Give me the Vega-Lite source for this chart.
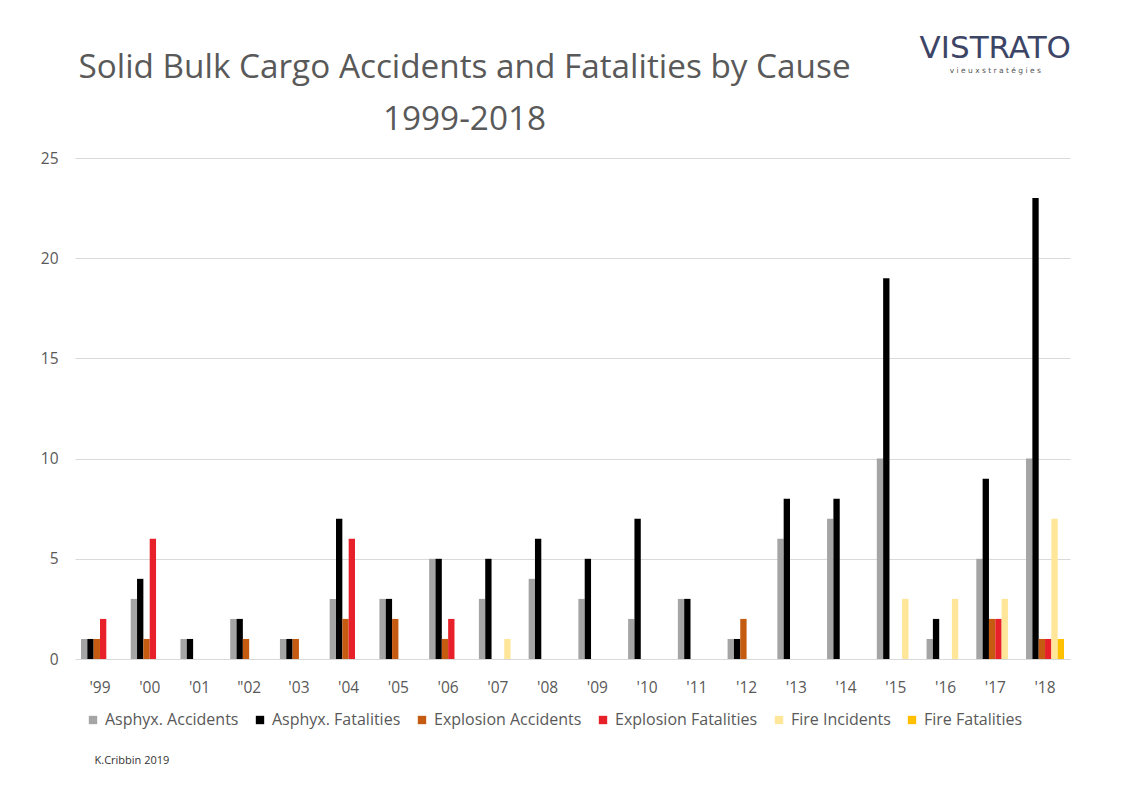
{
  "$schema": "https://vega.github.io/schema/vega-lite/v6.json",
  "width": 995,
  "height": 501,
  "autosize": "none",
  "padding": {"left": 75, "top": 158, "right": 53, "bottom": 131},
  "background": "white",
  "config": {
    "view": {"stroke": null},
    "font": "Open Sans"
  },
  "title": {
    "text": ["Solid Bulk Cargo Accidents and Fatalities by Cause", "1999-2018"],
    "fontSize": 33.3,
    "fontWeight": "normal",
    "color": "#595959",
    "font": "Open Sans",
    "anchor": "middle",
    "frame": "group",
    "dx": -108,
    "offset": -104,
    "lineHeight": 52
  },
  "data": {
    "values": [
      {"year": "'99", "series": "Asphyx. Accidents", "value": 1},
      {"year": "'99", "series": "Asphyx. Fatalities", "value": 1},
      {"year": "'99", "series": "Explosion Accidents", "value": 1},
      {"year": "'99", "series": "Explosion Fatalities", "value": 2},
      {"year": "'00", "series": "Asphyx. Accidents", "value": 3},
      {"year": "'00", "series": "Asphyx. Fatalities", "value": 4},
      {"year": "'00", "series": "Explosion Accidents", "value": 1},
      {"year": "'00", "series": "Explosion Fatalities", "value": 6},
      {"year": "'01", "series": "Asphyx. Accidents", "value": 1},
      {"year": "'01", "series": "Asphyx. Fatalities", "value": 1},
      {"year": "\"02", "series": "Asphyx. Accidents", "value": 2},
      {"year": "\"02", "series": "Asphyx. Fatalities", "value": 2},
      {"year": "\"02", "series": "Explosion Accidents", "value": 1},
      {"year": "'03", "series": "Asphyx. Accidents", "value": 1},
      {"year": "'03", "series": "Asphyx. Fatalities", "value": 1},
      {"year": "'03", "series": "Explosion Accidents", "value": 1},
      {"year": "'04", "series": "Asphyx. Accidents", "value": 3},
      {"year": "'04", "series": "Asphyx. Fatalities", "value": 7},
      {"year": "'04", "series": "Explosion Accidents", "value": 2},
      {"year": "'04", "series": "Explosion Fatalities", "value": 6},
      {"year": "'05", "series": "Asphyx. Accidents", "value": 3},
      {"year": "'05", "series": "Asphyx. Fatalities", "value": 3},
      {"year": "'05", "series": "Explosion Accidents", "value": 2},
      {"year": "'06", "series": "Asphyx. Accidents", "value": 5},
      {"year": "'06", "series": "Asphyx. Fatalities", "value": 5},
      {"year": "'06", "series": "Explosion Accidents", "value": 1},
      {"year": "'06", "series": "Explosion Fatalities", "value": 2},
      {"year": "'07", "series": "Asphyx. Accidents", "value": 3},
      {"year": "'07", "series": "Asphyx. Fatalities", "value": 5},
      {"year": "'07", "series": "Fire Incidents", "value": 1},
      {"year": "'08", "series": "Asphyx. Accidents", "value": 4},
      {"year": "'08", "series": "Asphyx. Fatalities", "value": 6},
      {"year": "'09", "series": "Asphyx. Accidents", "value": 3},
      {"year": "'09", "series": "Asphyx. Fatalities", "value": 5},
      {"year": "'10", "series": "Asphyx. Accidents", "value": 2},
      {"year": "'10", "series": "Asphyx. Fatalities", "value": 7},
      {"year": "'11", "series": "Asphyx. Accidents", "value": 3},
      {"year": "'11", "series": "Asphyx. Fatalities", "value": 3},
      {"year": "'12", "series": "Asphyx. Accidents", "value": 1},
      {"year": "'12", "series": "Asphyx. Fatalities", "value": 1},
      {"year": "'12", "series": "Explosion Accidents", "value": 2},
      {"year": "'13", "series": "Asphyx. Accidents", "value": 6},
      {"year": "'13", "series": "Asphyx. Fatalities", "value": 8},
      {"year": "'14", "series": "Asphyx. Accidents", "value": 7},
      {"year": "'14", "series": "Asphyx. Fatalities", "value": 8},
      {"year": "'15", "series": "Asphyx. Accidents", "value": 10},
      {"year": "'15", "series": "Asphyx. Fatalities", "value": 19},
      {"year": "'15", "series": "Fire Incidents", "value": 3},
      {"year": "'16", "series": "Asphyx. Accidents", "value": 1},
      {"year": "'16", "series": "Asphyx. Fatalities", "value": 2},
      {"year": "'16", "series": "Fire Incidents", "value": 3},
      {"year": "'17", "series": "Asphyx. Accidents", "value": 5},
      {"year": "'17", "series": "Asphyx. Fatalities", "value": 9},
      {"year": "'17", "series": "Explosion Accidents", "value": 2},
      {"year": "'17", "series": "Explosion Fatalities", "value": 2},
      {"year": "'17", "series": "Fire Incidents", "value": 3},
      {"year": "'18", "series": "Asphyx. Accidents", "value": 10},
      {"year": "'18", "series": "Asphyx. Fatalities", "value": 23},
      {"year": "'18", "series": "Explosion Accidents", "value": 1},
      {"year": "'18", "series": "Explosion Fatalities", "value": 1},
      {"year": "'18", "series": "Fire Incidents", "value": 7},
      {"year": "'18", "series": "Fire Fatalities", "value": 1}
    ]
  },
  "layer": [
    {
      "mark": {"type": "bar"},
      "encoding": {
        "x": {
          "field": "year",
          "type": "nominal",
          "sort": null,
          "scale": {
            "domain": ["'99", "'00", "'01", "\"02", "'03", "'04", "'05", "'06", "'07", "'08", "'09", "'10", "'11", "'12", "'13", "'14", "'15", "'16", "'17", "'18"],
            "paddingInner": 0.236,
            "paddingOuter": 0.12
          },
          "axis": {
            "title": "K.Cribbin 2019",
            "titleFontSize": 11,
            "titleFontWeight": "normal",
            "titleColor": "#333333",
            "titleAnchor": "start",
            "titleAlign": "left",
            "titleX": 19,
            "titleY": 101,
            "titleBaseline": "middle",
            "labelAngle": 0,
            "labelFontSize": 15.5,
            "labelColor": "#595959",
            "labelPadding": 21,
            "ticks": false,
            "domain": false,
            "grid": false
          }
        },
        "xOffset": {
          "field": "series",
          "type": "nominal",
          "scale": {
            "domain": ["Asphyx. Accidents", "Asphyx. Fatalities", "Explosion Accidents", "Explosion Fatalities", "Fire Incidents", "Fire Fatalities"],
            "paddingInner": 0,
            "paddingOuter": 0
          }
        },
        "y": {
          "field": "value",
          "type": "quantitative",
          "scale": {"domain": [0, 25]},
          "axis": {
            "title": null,
            "values": [0, 5, 10, 15, 20, 25],
            "labelFontSize": 15.5,
            "labelColor": "#595959",
            "labelPadding": 17,
            "ticks": false,
            "domain": false,
            "gridColor": "#D9D9D9",
            "gridWidth": 1
          }
        },
        "color": {
          "field": "series",
          "type": "nominal",
          "scale": {
            "domain": ["Asphyx. Accidents", "Asphyx. Fatalities", "Explosion Accidents", "Explosion Fatalities", "Fire Incidents", "Fire Fatalities"],
            "range": ["#A5A5A5", "#000000", "#C55A11", "#E8202A", "#FFE699", "#FFC000"]
          },
          "legend": {
            "title": null,
            "orient": "none",
            "direction": "horizontal",
            "columns": 6,
            "legendX": 10,
            "legendY": 554,
            "symbolType": "square",
            "symbolSize": 70,
            "symbolStrokeWidth": 0,
            "labelFontSize": 16,
            "labelColor": "#595959",
            "labelLimit": 300,
            "columnPadding": 13,
            "labelOffset": 4
          }
        }
      }
    },
    {
      "data": {"values": [{"label": "VISTRATO"}]},
      "mark": {"type": "text", "font": "DejaVu Sans", "fontSize": 31, "fontWeight": "normal", "color": "#3D4566", "align": "center", "baseline": "middle"},
      "encoding": {
        "x": {"datum": "'17"},
        "y": {"datum": 30.44, "scale": {"domain": [0, 25]}},
        "text": {"field": "label"}
      }
    },
    {
      "data": {"values": [{"label": "v i e u x   s t r a t é g i e s"}]},
      "mark": {"type": "text", "font": "DejaVu Sans", "fontSize": 7.5, "color": "#555555", "align": "center", "baseline": "middle"},
      "encoding": {
        "x": {"datum": "'17"},
        "y": {"datum": 29.36, "scale": {"domain": [0, 25]}},
        "text": {"field": "label"}
      }
    }
  ]
}
